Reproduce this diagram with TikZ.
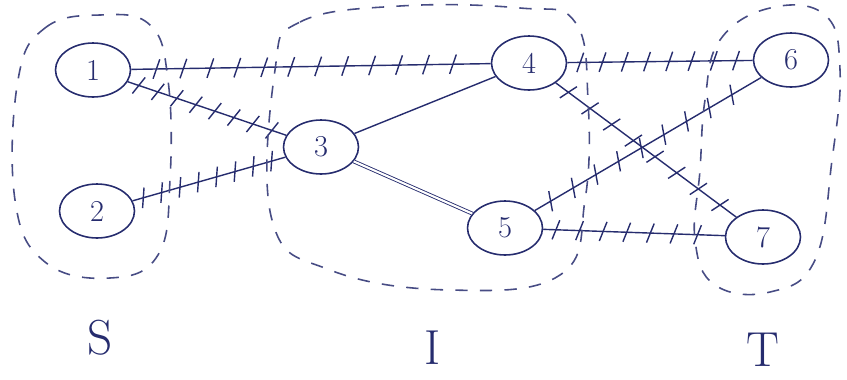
\documentclass[tikz,border=0pt]{standalone}
\usepackage{xcolor}
\usepackage{tikz}
\usetikzlibrary{shapes.geometric, decorations.markings}
\definecolor{ink}{RGB}{38, 44, 110}

\begin{document}
\begin{tikzpicture}[x=0.02cm, y=-0.02cm,
  vertex/.style  = {ellipse, draw=ink, line width=0.9pt, minimum width=1.5cm,
                    minimum height=1.08cm, inner sep=0pt, font=\LARGE, text=ink},
  edge/.style    = {draw=ink, line width=0.8pt},
  hatch/.style   = {edge, postaction={decorate, decoration={markings,
                    mark=between positions 0.07 and 0.95 step #1 with
                    {\draw[ink, line width=0.8pt] (-2pt,-5.5pt) -- (2pt,5.5pt);}}}},
  region/.style  = {draw=ink!85, line width=0.9pt, dash pattern=on 7pt off 7pt},
  setname/.style = {font=\fontsize{28}{30}\selectfont, text=ink, inner sep=1pt},
]
  \useasboundingbox (0,0) rectangle (847,379);

  % Vertices
  \node[vertex] (n1) at (93,70)   {1};
  \node[vertex] (n2) at (97,211)  {2};
  \node[vertex] (n3) at (321,147) {3};
  \node[vertex] (n4) at (529,63)  {4};
  \node[vertex] (n5) at (505,228) {5};
  \node[vertex] (n6) at (791,60)  {6};
  \node[vertex] (n7) at (763,237) {7};

  % Edges
  \draw[hatch=0.075] (n1) -- (n4);
  \draw[hatch=0.12]  (n1) -- (n3);
  \draw[hatch=0.12]  (n2) -- (n3);
  \draw[edge]        (n3) -- (n4);
  \draw[edge, line width=0.5pt, double=white, double distance=1.2pt] (n3) -- (n5);
  \draw[hatch=0.12]  (n4) -- (n6);
  \draw[hatch=0.12]  (n4) -- (n7);
  \draw[hatch=0.1]   (n5) -- (n6);
  \draw[hatch=0.13]  (n5) -- (n7);

  % Sets
  \draw[region] plot[smooth cycle, tension=0.7] coordinates
    {(18,80) (45,28) (100,15) (150,25) (168,80) (170,180) (158,255) (110,278) (45,262) (15,200)};
  \draw[region] plot[smooth cycle, tension=0.7] coordinates
    {(275,70) (300,22) (400,6) (520,8) (575,22) (588,100) (585,200) (560,275) (450,290) (330,270) (272,220)};
  \draw[region] plot[smooth cycle, tension=0.7] coordinates
    {(705,100) (720,40) (770,8) (825,15) (840,70) (832,160) (815,260) (770,292) (715,285) (695,240) (700,170)};

  \node[setname] (S) at (100,338) {S};
  \node[setname] (I) at (433,348) {I};
  \node[setname] (T) at (763,350) {T};
\end{tikzpicture}
\end{document}
